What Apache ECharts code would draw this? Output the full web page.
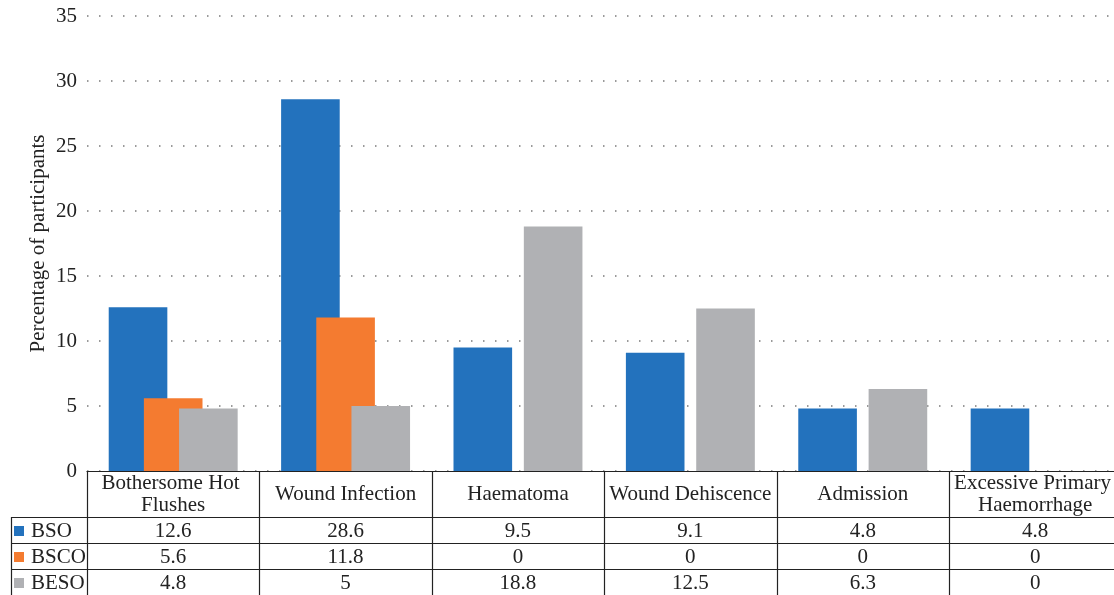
<!DOCTYPE html>
<html>
<head>
<meta charset="utf-8">
<script src="https://cdn.jsdelivr.net/npm/echarts@6/dist/echarts.min.js"></script>
<style>
html,body{margin:0;padding:0;background:#fff;overflow:hidden;width:1114px;height:595px;}
#c{width:1123px;height:595px;}
</style>
</head>
<body>
<div id="c"></div>
<script>
const categories = ['Bothersome Hot Flushes', 'Wound Infection', 'Haematoma', 'Wound Dehiscence', 'Admission', 'Excessive Primary Haemorrhage'];
const seriesNames = ['BSO', 'BSCO', 'BESO'];
const bsoValues = [12.6, 28.6, 9.5, 9.1, 4.8, 4.8];
const bscoValues = [5.6, 11.8, 0, 0, 0, 0];
const besoValues = [4.8, 5, 18.8, 12.5, 6.3, 0];
const yMin = 0, yMax = 35, yStep = 5;
const yTitle = 'Percentage of participants';

const seriesValues = [bsoValues, bscoValues, besoValues];
const colors = ['#2372BD', '#F47B30', '#B0B1B4'];
const FONT = "'Liberation Serif','Times New Roman',serif";
const FS = 21;
const TXT = '#222';

const chart = echarts.init(document.getElementById('c'));
chart.setOption({
  animation: false,
  grid: {left: 87, top: 16, right: 0, height: 455},
  xAxis: {
    type: 'category',
    data: categories,
    axisTick: {show: false},
    axisLine: {lineStyle: {color: TXT, width: 1.2}},
    axisLabel: {
      interval: 0, margin: 23, verticalAlign: 'middle',
      width: 170, overflow: 'break', lineHeight: 22,
      fontFamily: FONT, fontSize: FS, color: TXT
    }
  },
  yAxis: {
    type: 'value', min: yMin, max: yMax, interval: yStep,
    name: yTitle, nameLocation: 'middle', nameGap: 38, nameRotate: 90,
    nameMoveOverlap: false,
    nameTextStyle: {fontFamily: FONT, fontSize: FS, color: TXT},
    axisLine: {show: false}, axisTick: {show: false},
    axisLabel: {margin: 10, fontFamily: FONT, fontSize: FS, color: TXT},
    splitLine: {lineStyle: {type: [1.5, 10.5], color: '#7a7a7a', width: 1.5}}
  },
  series: seriesNames.map((n, i) => ({
    name: n, type: 'bar', data: seriesValues[i],
    barWidth: '34%', barGap: '-40%',
    itemStyle: {color: colors[i]}
  }))
});

// Build data table under the axis using the chart's own scales
const x0 = chart.convertToPixel({xAxisIndex: 0}, 0);
const x1 = chart.convertToPixel({xAxisIndex: 0}, 1);
const band = x1 - x0;
const yAxisPx = chart.convertToPixel({yAxisIndex: 0}, 0);
const leftEdge = x0 - band / 2;
const rowTops = [yAxisPx + 46, yAxisPx + 72, yAxisPx + 98];
const rowH = 26;
const bottomY = 600;
const g = [];
const ln = (xa, ya, xb, yb) => g.push({type: 'line', silent: true,
  shape: {x1: xa, y1: ya, x2: xb, y2: yb}, style: {stroke: TXT, lineWidth: 1.2}, z: 10});
for (let i = 0; i <= categories.length; i++) {
  const xv = Math.round(leftEdge + i * band) + 0.5;
  ln(xv, yAxisPx, xv, bottomY);
}
ln(11.5, rowTops[0], 11.5, bottomY);
rowTops.forEach(t => ln(11.5, Math.round(t) + 0.5, 1130, Math.round(t) + 0.5));
seriesNames.forEach((n, s) => {
  const cy = rowTops[s] + rowH / 2 + 1;
  g.push({type: 'rect', silent: true, shape: {x: 14, y: cy - 5, width: 10, height: 10}, style: {fill: colors[s]}});
  g.push({type: 'text', silent: true, x: 31, y: cy,
    style: {text: n, font: FS + 'px ' + FONT, fill: TXT, textAlign: 'left', textVerticalAlign: 'middle', align: 'left', verticalAlign: 'middle'}});
  seriesValues[s].forEach((v, c) => {
    const cx = chart.convertToPixel({xAxisIndex: 0}, c);
    g.push({type: 'text', silent: true, x: cx, y: cy,
      style: {text: String(v), font: FS + 'px ' + FONT, fill: TXT, textAlign: 'center', textVerticalAlign: 'middle', align: 'center', verticalAlign: 'middle'}});
  });
});
chart.setOption({graphic: {elements: g}});
</script>
</body>
</html>
